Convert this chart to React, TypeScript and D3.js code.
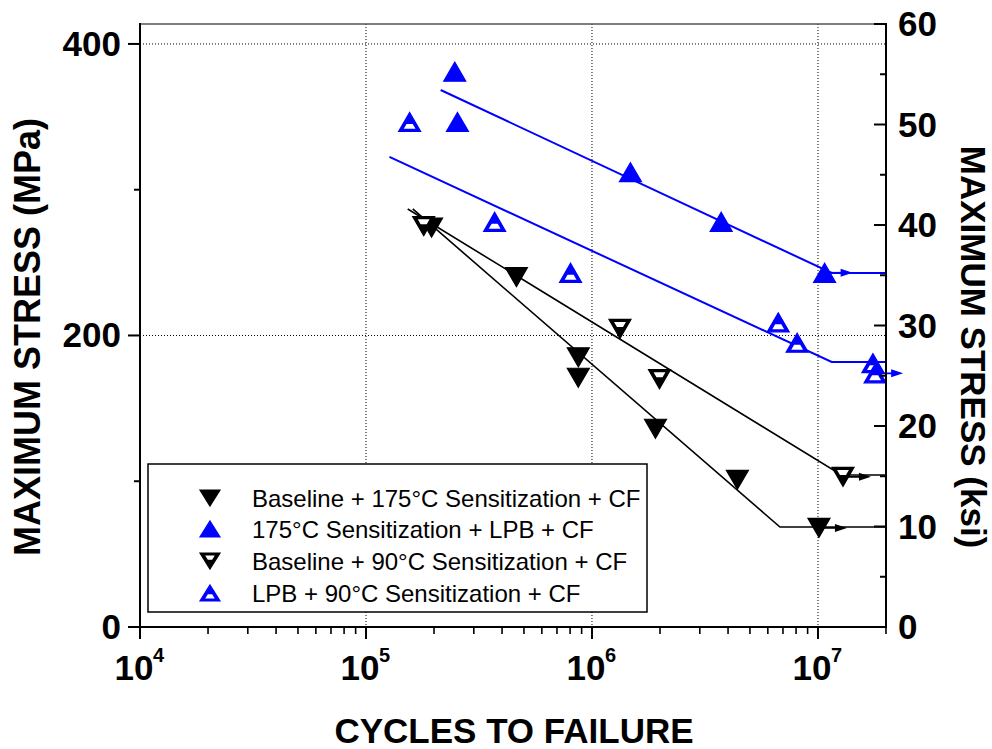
import React from "react";
import * as d3 from "d3";

// ---------- data ----------
const seriesNames = [
  "Baseline + 175°C Sensitization + CF",
  "175°C Sensitization + LPB + CF",
  "Baseline + 90°C Sensitization + CF",
  "LPB + 90°C Sensitization + CF",
];

const cyclesS1 = [1.95e5, 4.63e5, 8.7e5, 8.7e5, 1.91e6, 4.4e6, 1.01e7];
const stressS1 = [274, 240, 185, 171, 136, 101, 68];
const runoutS1 = [0, 0, 0, 0, 0, 0, 1];

const cyclesS2 = [2.47e5, 2.54e5, 1.48e6, 3.73e6, 1.07e7];
const stressS2 = [381, 346.5, 312, 278, 243];
const runoutS2 = [0, 0, 0, 0, 1];

const cyclesS3 = [1.8e5, 1.33e6, 1.99e6, 1.29e7];
const stressS3 = [275, 204.5, 170, 103];
const runoutS3 = [0, 0, 0, 1];

const cyclesS4 = [1.56e5, 3.71e5, 8.04e5, 6.67e6, 8.09e6, 1.75e7, 1.79e7];
const stressS4 = [346.5, 278, 243, 209, 195, 181, 174];
const runoutS4 = [0, 0, 0, 0, 0, 0, 1];

// fit lines (cycles, MPa)
const fitCyclesS1 = [1.61e5, 6.79e6, 2e7];
const fitStressS1 = [286.8, 68.6, 68.6];
const fitCyclesS2 = [2.14e5, 1.15e7, 2e7];
const fitStressS2 = [368.4, 242.9, 242.9];
const fitCyclesS3 = [1.53e5, 1.27e7, 2e7];
const fitStressS3 = [286.8, 104.3, 104.3];
const fitCyclesS4 = [1.27e5, 1.15e7, 2e7];
const fitStressS4 = [322.5, 181.8, 181.8];

const mpaTicks = [0, 200, 400];
const mpaMinor = [100, 300];
const ksiTicks = [0, 10, 20, 30, 40, 50, 60];
const ksiMinor = [5, 15, 25, 35, 45, 55];
const xDecades = [1e4, 1e5, 1e6, 1e7];
const xExponents = ["4", "5", "6", "7"];
const KSI_TO_MPA = 6.894757;

// ---------- layout ----------
const W = 992;
const H = 749;
const L = 140;
const R = 886;
const T = 24;
const B = 627;
const FONT = "'Liberation Sans', Arial, Helvetica, sans-serif";
const BLUE = "#0000ff";

const x = d3.scaleLog().domain([1e4, 2e7]).range([L, R]);
const y = d3.scaleLinear().domain([0, 60 * KSI_TO_MPA]).range([B, T]);

function triPath(cx: number, cy: number, w: number, h: number, up: boolean) {
  const p = d3.path();
  if (up) {
    p.moveTo(cx, cy - h / 2);
    p.lineTo(cx + w / 2, cy + h / 2);
    p.lineTo(cx - w / 2, cy + h / 2);
  } else {
    p.moveTo(cx, cy + h / 2);
    p.lineTo(cx + w / 2, cy - h / 2);
    p.lineTo(cx - w / 2, cy - h / 2);
  }
  p.closePath();
  return p.toString();
}

function bandPath(cx: number, cy: number, w: number, h: number, up: boolean) {
  const s = 2.6;
  const bh = h * 0.26;
  const inset = 3.6;
  let y0: number, y1: number, hw: (yy: number) => number;
  if (up) {
    y1 = cy + h / 2 - s;
    y0 = y1 - bh;
    hw = (yy) => (w / 2) * ((yy - (cy - h / 2)) / h);
  } else {
    y0 = cy - h / 2 + s;
    y1 = y0 + bh;
    hw = (yy) => (w / 2) * ((cy + h / 2 - yy) / h);
  }
  const p = d3.path();
  p.moveTo(cx - hw(y0) + inset, y0);
  p.lineTo(cx + hw(y0) - inset, y0);
  p.lineTo(cx + hw(y1) - inset, y1);
  p.lineTo(cx - hw(y1) + inset, y1);
  p.closePath();
  return p.toString();
}

function Marker({ cx, cy, w, h, up, color, half }: any) {
  return (
    <g>
      <path d={triPath(cx, cy, w, h, up)} fill={color} stroke={color} strokeWidth={1.2} strokeLinejoin="miter" />
      {half && <path d={bandPath(cx, cy, w, h, up)} fill="#fff" />}
    </g>
  );
}

function Arrow({ cx, cy, color }: any) {
  const len = 28;
  const x2 = cx + len;
  return (
    <g>
      <line x1={cx} y1={cy} x2={x2 - 6} y2={cy} stroke={color} strokeWidth={1.8} />
      <path d={`M${x2},${cy} L${x2 - 12},${cy - 4} L${x2 - 12},${cy + 4} Z`} fill={color} />
    </g>
  );
}

const series = [
  { cycles: cyclesS1, stress: stressS1, runout: runoutS1, up: false, color: "#000", half: false, fc: fitCyclesS1, fs: fitStressS1, lw: 1.6 },
  { cycles: cyclesS2, stress: stressS2, runout: runoutS2, up: true, color: BLUE, half: false, fc: fitCyclesS2, fs: fitStressS2, lw: 2 },
  { cycles: cyclesS3, stress: stressS3, runout: runoutS3, up: false, color: "#000", half: true, fc: fitCyclesS3, fs: fitStressS3, lw: 1.6 },
  { cycles: cyclesS4, stress: stressS4, runout: runoutS4, up: true, color: BLUE, half: true, fc: fitCyclesS4, fs: fitStressS4, lw: 2 },
];

export default function App() {
  const line = d3
    .line<[number, number]>()
    .x((d) => x(d[0]))
    .y((d) => y(d[1]));

  const minorX: number[] = [];
  xDecades.forEach((d) => {
    for (let k = 2; k <= 9; k++) if (d * k <= 2e7) minorX.push(d * k);
  });

  const legendRows = [498, 529, 561, 593];
  const legendOrder = [0, 1, 2, 3];

  return (
    <svg width={W} height={H} style={{ position: "absolute", left: 0, top: 0, background: "#fff" }} fontFamily={FONT}>
      <rect x={0} y={0} width={W} height={H} fill="#fff" />
      {/* grid */}
      {[1e5, 1e6, 1e7].map((v) => (
        <line key={"gx" + v} x1={x(v)} x2={x(v)} y1={T} y2={B} stroke="#000" strokeWidth={1} strokeDasharray="1,2" />
      ))}
      {[200, 400].map((v) => (
        <line key={"gy" + v} x1={L} x2={R} y1={y(v)} y2={y(v)} stroke="#000" strokeWidth={1} strokeDasharray="1,2" />
      ))}

      {/* top border */}
      <line x1={L} x2={R} y1={T} y2={T} stroke="#555" strokeWidth={1.5} />

      {/* fit lines */}
      {series.map((s, i) => (
        <path
          key={"fit" + i}
          d={line(s.fc.map((c, j) => [c, s.fs[j]] as [number, number])) || ""}
          fill="none"
          stroke={s.color}
          strokeWidth={s.lw}
        />
      ))}

      {/* runout arrows */}
      {series.map((s, i) =>
        s.cycles.map((c, j) =>
          s.runout[j] ? <Arrow key={"ar" + i + "-" + j} cx={x(c)} cy={y(s.stress[j])} color={s.color} /> : null
        )
      )}

      {/* markers */}
      {series.map((s, i) =>
        s.cycles.map((c, j) => (
          <Marker key={"m" + i + "-" + j} cx={x(c)} cy={y(s.stress[j])} w={22} h={19} up={s.up} color={s.color} half={s.half} />
        ))
      )}

      {/* axes lines */}
      <line x1={L} x2={L} y1={T - 1} y2={B + 1} stroke="#000" strokeWidth={2} />
      <line x1={R} x2={R} y1={T - 1} y2={B + 1} stroke="#000" strokeWidth={2} />
      <line x1={L - 1} x2={R + 1} y1={B} y2={B} stroke="#000" strokeWidth={2} />

      {/* left ticks */}
      {mpaTicks.map((v) => (
        <g key={"lt" + v}>
          <line x1={L - 12} x2={L} y1={y(v)} y2={y(v)} stroke="#000" strokeWidth={2} />
          <text x={121} y={y(v) + 12} textAnchor="end" fontSize={35} fontWeight="bold">
            {v}
          </text>
        </g>
      ))}
      {mpaMinor.map((v) => (
        <line key={"lm" + v} x1={L - 6} x2={L} y1={y(v)} y2={y(v)} stroke="#000" strokeWidth={2} />
      ))}

      {/* right ticks (ksi) */}
      {ksiTicks.map((v) => (
        <g key={"rt" + v}>
          <line x1={R - 12} x2={R} y1={y(v * KSI_TO_MPA)} y2={y(v * KSI_TO_MPA)} stroke="#000" strokeWidth={2} />
          <text x={898} y={y(v * KSI_TO_MPA) + 12} textAnchor="start" fontSize={35} fontWeight="bold">
            {v}
          </text>
        </g>
      ))}
      {ksiMinor.map((v) => (
        <line key={"rm" + v} x1={R - 6} x2={R} y1={y(v * KSI_TO_MPA)} y2={y(v * KSI_TO_MPA)} stroke="#000" strokeWidth={2} />
      ))}

      {/* bottom ticks */}
      {xDecades.map((v, i) => (
        <g key={"bt" + v}>
          <line x1={x(v)} x2={x(v)} y1={B} y2={B + 12} stroke="#000" strokeWidth={2} />
          <text x={x(v) - 6} y={680} textAnchor="middle" fontSize={35} fontWeight="bold">
            10
          </text>
          <text x={x(v) + 13} y={662} textAnchor="start" fontSize={20} fontWeight="bold">
            {xExponents[i]}
          </text>
        </g>
      ))}
      {minorX.map((v) => (
        <line key={"bm" + v} x1={x(v)} x2={x(v)} y1={B} y2={B + 7} stroke="#000" strokeWidth={1.6} />
      ))}

      {/* axis titles */}
      <text x={514} y={743} textAnchor="middle" fontSize={35} fontWeight="bold">
        CYCLES TO FAILURE
      </text>
      <text transform={`translate(40,337) rotate(-90)`} textAnchor="middle" fontSize={36} fontWeight="bold">
        MAXIMUM STRESS (MPa)
      </text>
      <text transform={`translate(961,347) rotate(90)`} textAnchor="middle" fontSize={35} fontWeight="bold">
        MAXIMUM STRESS (ksi)
      </text>

      {/* legend */}
      <rect x={148} y={464} width={499} height={148} fill="#fff" stroke="#000" strokeWidth={1.5} />
      {legendOrder.map((si, r) => {
        const s = series[si];
        const cy = legendRows[r];
        return (
          <g key={"lg" + r}>
            <Marker cx={210} cy={cy} w={20} h={16} up={s.up} color={s.color} half={s.half} />
            <text x={252} y={cy + 9} fontSize={24}>
              {seriesNames[si]}
            </text>
          </g>
        );
      })}
    </svg>
  );
}
